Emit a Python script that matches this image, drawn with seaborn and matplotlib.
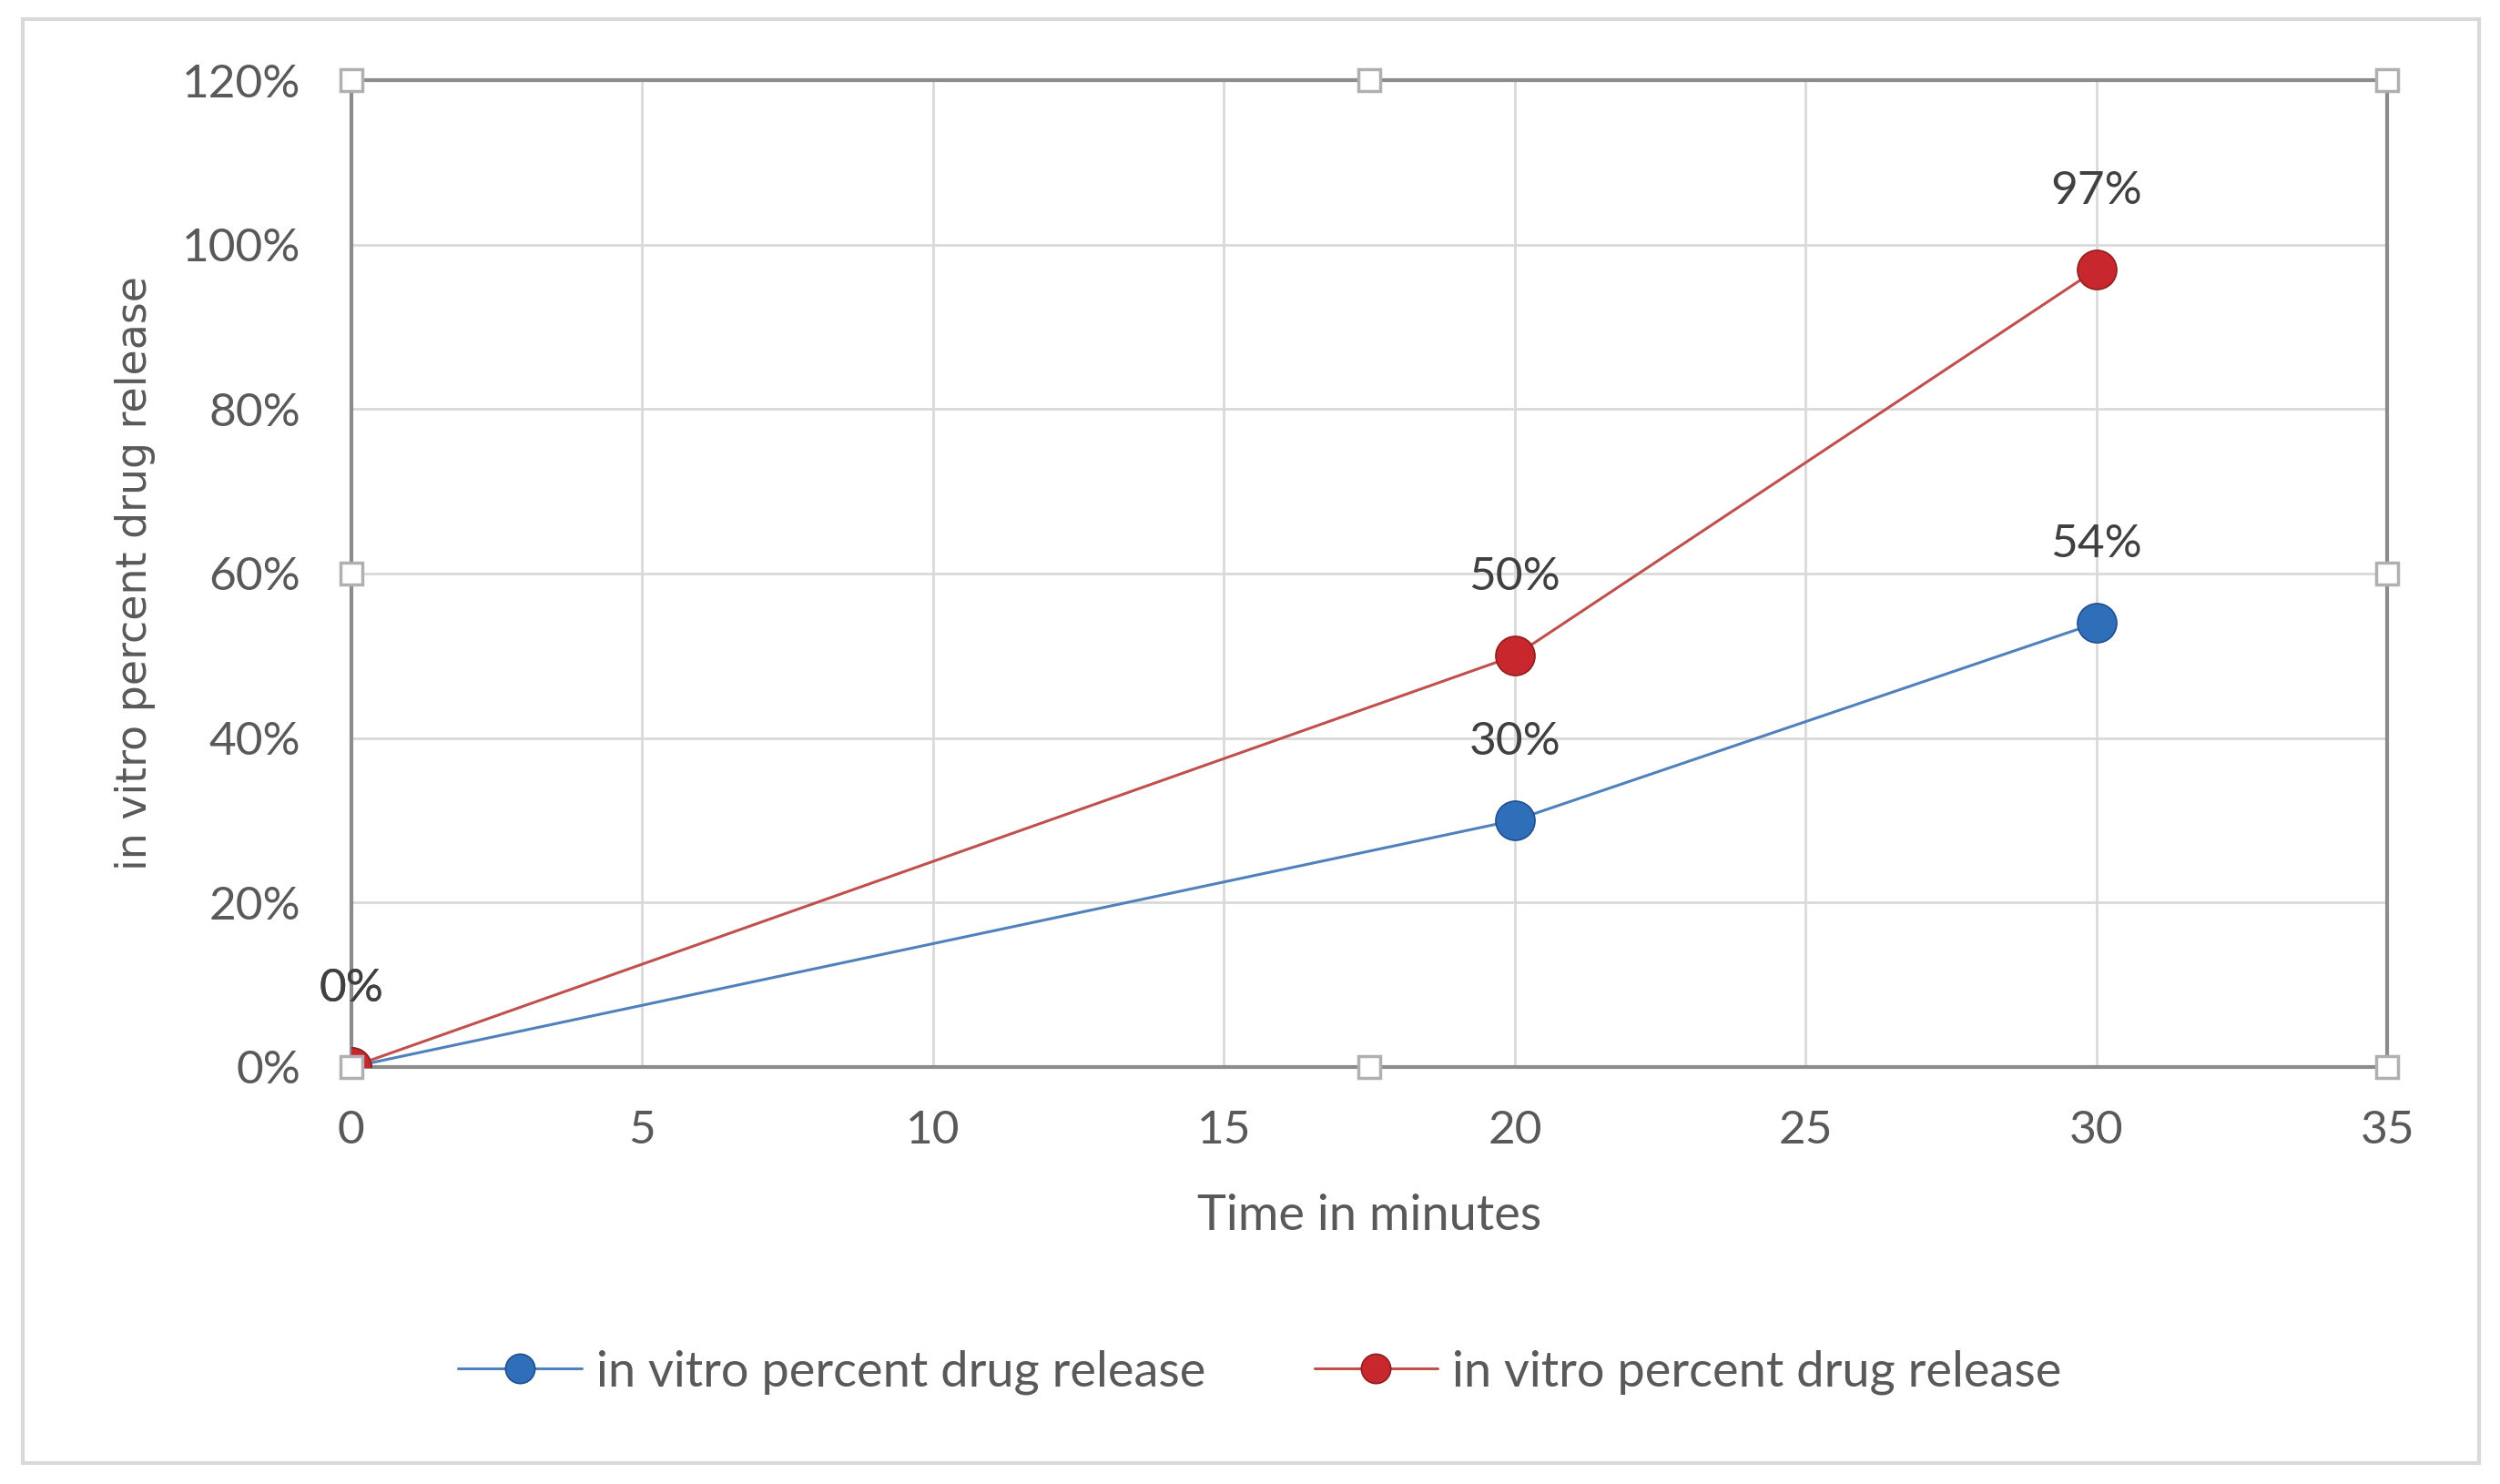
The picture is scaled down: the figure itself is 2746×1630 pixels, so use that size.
import matplotlib
matplotlib.use("Agg")
import matplotlib.pyplot as plt
import matplotlib.patches as mpatches
from matplotlib.ticker import FuncFormatter, MultipleLocator
import seaborn as sns
import pandas as pd

# ---- data ----
time_min = [0, 20, 30]
release_a = [0.00, 0.30, 0.54]   # blue series
release_b = [0.00, 0.50, 0.97]   # red series
series_name = "in vitro percent drug release"
x_label = "Time in minutes"
y_label = "in vitro percent drug release"

sns.set_theme(style="white")
plt.rcParams['font.family'] = ['Lato', 'DejaVu Sans']

fig = plt.figure(figsize=(27.46, 16.30), dpi=100)
ax = fig.add_axes([0.1405, 0.281, 0.955 - 0.1405, 0.946 - 0.281])

df_a = pd.DataFrame({"t": time_min, "v": release_a})
df_b = pd.DataFrame({"t": time_min, "v": release_b})

blue_line = "#4f81bd"
blue_mk = "#2f6fba"
red_line = "#c0504d"
red_mk = "#c8282d"

sns.lineplot(data=df_a, x="t", y="v", ax=ax, color=blue_line, linewidth=2.2,
             marker="o", markersize=31, markerfacecolor=blue_mk,
             markeredgecolor="#1f4f8f", markeredgewidth=1.2, label=series_name,
             zorder=4)
sns.lineplot(data=df_b, x="t", y="v", ax=ax, color=red_line, linewidth=2.2,
             marker="o", markersize=31, markerfacecolor=red_mk,
             markeredgecolor="#8f1f1f", markeredgewidth=1.2, label=series_name,
             zorder=5)

# data labels
for xs, ys in ((time_min, release_a), (time_min, release_b)):
    for xv, yv in zip(xs, ys):
        ax.annotate(f"{round(yv * 100):.0f}%", (xv, yv), xytext=(0, 62),
                    textcoords="offset points", ha="center", va="center",
                    fontsize=37, color="#404040", zorder=6)

ax.set_xlim(0, 35)
ax.set_ylim(0, 1.2)
ax.xaxis.set_major_locator(MultipleLocator(5))
ax.yaxis.set_major_locator(MultipleLocator(0.2))
ax.yaxis.set_major_formatter(FuncFormatter(lambda v, p: f"{v * 100:.0f}%"))

ax.grid(True, color="#d9d9d9", linewidth=2.0)
ax.set_axisbelow(True)
for s in ax.spines.values():
    s.set_visible(True)
    s.set_color("#8c8c8c")
    s.set_linewidth(3)

ax.tick_params(axis="both", length=0, labelsize=37, labelcolor="#595959")
ax.tick_params(axis="y", pad=40)
ax.tick_params(axis="x", pad=34)

ax.set_xlabel(x_label, fontsize=39, color="#595959")
ax.set_ylabel(y_label, fontsize=33, color="#595959", family=['DejaVu Sans'])
ax.xaxis.set_label_coords(0.5, -0.128)
ax.yaxis.set_label_coords(-0.096, 0.5)

# selection handles of the plot area
hx = [0, 0.5, 1, 0, 1, 0, 0.5, 1]
hy = [1, 1, 1, 0.5, 0.5, 0, 0, 0]
ax.plot(hx, hy, linestyle="none", marker="s", markersize=17,
        markerfacecolor="white", markeredgecolor="#b0b0b0", markeredgewidth=2.5,
        transform=ax.transAxes, clip_on=False, zorder=10)

# legend
handles, labels = ax.get_legend_handles_labels()
ax.get_legend().remove()
fig.legend(handles, labels, loc="center", bbox_to_anchor=(0.504, 0.0755),
           ncol=2, frameon=False, fontsize=39, handlelength=2.5,
           handletextpad=0.3, columnspacing=2.2, labelcolor="#595959",
           markerscale=0.75)

# chart border
fig.patches.append(mpatches.Rectangle((25 / 2746, 1 - 1607 / 1630),
                                      (2723 - 25) / 2746, (1607 - 21) / 1630,
                                      transform=fig.transFigure, fill=False,
                                      edgecolor="#d9d9d9", linewidth=3))

fig.savefig("out.png", dpi=100)
